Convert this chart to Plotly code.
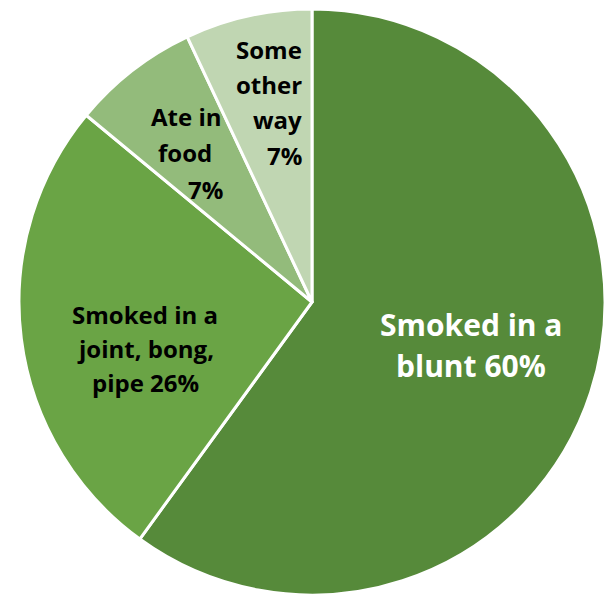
import plotly.graph_objects as go

# How marijuana was used
methods = ["Smoked in a blunt", "Smoked in a joint, bong, pipe", "Ate in food", "Some other way"]
shares = [60, 26, 7, 7]
slice_colors = ["#568A3A", "#6AA445", "#93BB7B", "#C0D6B2"]

# wrapped label lines for each slice (percent appended from the data)
label_lines = [
    ["Smoked in a", "blunt {}%"],
    ["Smoked in a", "joint, bong,", "pipe {}%"],
    ["Ate in", "food", "{}%"],
    ["Some", "other", "way", "{}%"],
]
label_colors = ["white", "black", "black", "black"]

W, H = 610, 595

fig = go.Figure(go.Pie(
    labels=methods,
    values=shares,
    sort=False,
    direction="clockwise",
    rotation=0,
    marker=dict(colors=slice_colors, line=dict(color="white", width=3)),
    textinfo="none",
    hoverinfo="label+percent",
    showlegend=False,
    domain=dict(x=[18 / W, 606 / W], y=[0, 1 - 9 / H]),
))

# per-label layout in pixels: x of each line, y of first line, line pitch, font size, anchor
placements = [
    ([471, 471], 325, 40, 30, "center"),
    ([145, 145, 145], 314, 34, 24, "center"),
    ([186, 185, 205], 117, 36, 24, "center"),
    ([304, 304, 304, 304], 49, 35.5, 24, "right"),
]

for lines, share, col, (xs, y0, pitch, size, anchor) in zip(
        label_lines, shares, label_colors, placements):
    for i, (line, px) in enumerate(zip(lines, xs)):
        text = line.format(share) if "{}" in line else line
        fig.add_annotation(
            x=px / W, y=1 - (y0 + i * pitch) / H, xref="paper", yref="paper",
            text=f"<b>{text}</b>", showarrow=False,
            xanchor=anchor, yanchor="middle",
            font=dict(family="Open Sans, sans-serif", size=size, color=col),
        )

fig.update_layout(
    width=W, height=H,
    margin=dict(l=0, r=0, t=0, b=0),
    paper_bgcolor="white",
    plot_bgcolor="white",
)

fig.write_html("out.html")
